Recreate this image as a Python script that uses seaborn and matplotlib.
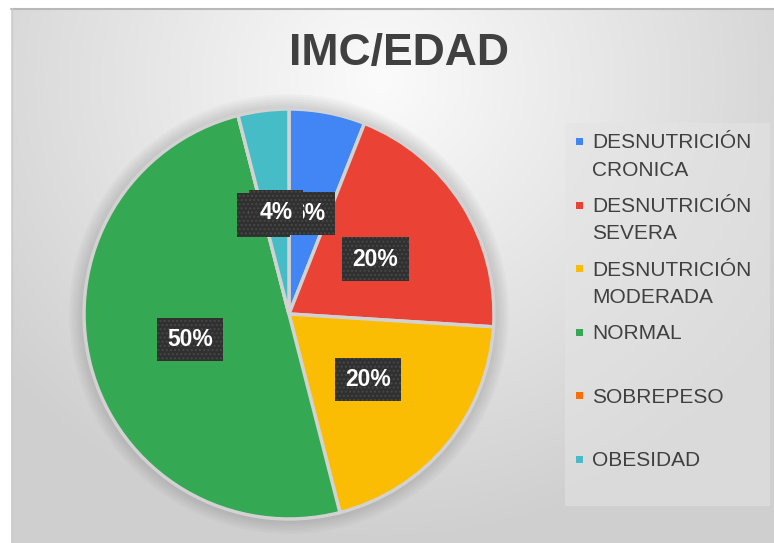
import numpy as np
import matplotlib
matplotlib.use("Agg")
import matplotlib.pyplot as plt
from matplotlib.patches import Rectangle, Circle
import seaborn as sns

# ---- data ----
categories = ["DESNUTRICIÓN\nCRONICA", "DESNUTRICIÓN\nSEVERA", "DESNUTRICIÓN\nMODERADA",
              "NORMAL", "SOBREPESO", "OBESIDAD"]
values = [6, 20, 20, 50, 0, 4]
colors = ["#4285F4", "#EA4335", "#FBBC04", "#34A853", "#FF6D01", "#46BDC6"]
title = "IMC/EDAD"

sns.set_theme(style="white")
plt.rcParams["font.family"] = ["Liberation Sans", "DejaVu Sans"]
palette = sns.color_palette(colors)

W, H = 774, 543
fig = plt.figure(figsize=(W / 100, H / 100), dpi=100)

# ---- background (pixel coordinates) ----
bg = fig.add_axes([0, 0, 1, 1], zorder=-10)
yy, xx = np.mgrid[0:H, 0:W]
r = np.hypot((xx - 380) / 1.0, (yy - 80) / 0.95)
v = 0.985 - 0.17 * np.clip(r / 480, 0, 1)
img = np.dstack([v, v, v])
img[:8, :, :] = 1
img[:, :11, :] = 1
bg.imshow(img, extent=[0, W, H, 0], aspect="auto", interpolation="bilinear")
bg.set_xlim(0, W)
bg.set_ylim(H, 0)
bg.axis("off")
bg.plot([11, W], [8.5, 8.5], color="#b8b8b8", lw=1.5)
bg.plot([11.5, 11.5], [8, H], color="#cccccc", lw=1)

# title
bg.text(399, 53, title, ha="center", va="center", fontsize=32, fontweight="bold",
        color="#404040")

# legend box
bg.add_patch(Rectangle((565, 123), 205, 383, fc="#e4e4e4", ec="none", alpha=0.55))
for i, (lab, col) in enumerate(zip(categories, palette)):
    top = 135 + i * 63.6
    bg.add_patch(Rectangle((576, top + 3), 7, 7, fc=col, ec="none"))
    for j, line in enumerate(lab.split("\n")):
        bg.text(592, top + 13.5 + j * 27, line, ha="left", va="baseline",
                fontsize=15, color="#404040")

# ---- pie ----
cx, cy, R = 289, 314, 205
ax = fig.add_axes([(cx - R) / W, 1 - (cy + R) / H, 2 * R / W, 2 * R / H])
ax.set_facecolor("none")
for k in range(6):
    ax.add_patch(Circle((0, 0), 1.0 + 0.012 * (k + 1), fc="black", ec="none",
                        alpha=0.025, zorder=0, clip_on=False))
wedges, texts, autotexts = ax.pie(
    values, colors=palette, startangle=90, counterclock=False,
    autopct=lambda p: f"{p:.0f}%", pctdistance=0.5,
    wedgeprops=dict(edgecolor="#d2d2d2", linewidth=2.5),
    textprops=dict(color="white", fontsize=16.5, fontweight="bold"))
for t in autotexts:
    t.set_bbox(dict(boxstyle="square,pad=0.45", fc="#303030", ec="#474747",
                    lw=0, hatch="...."))
ax.set_xlim(-1, 1)
ax.set_ylim(-1, 1)
ax.axis("off")

fig.savefig("out.png", dpi=100)
